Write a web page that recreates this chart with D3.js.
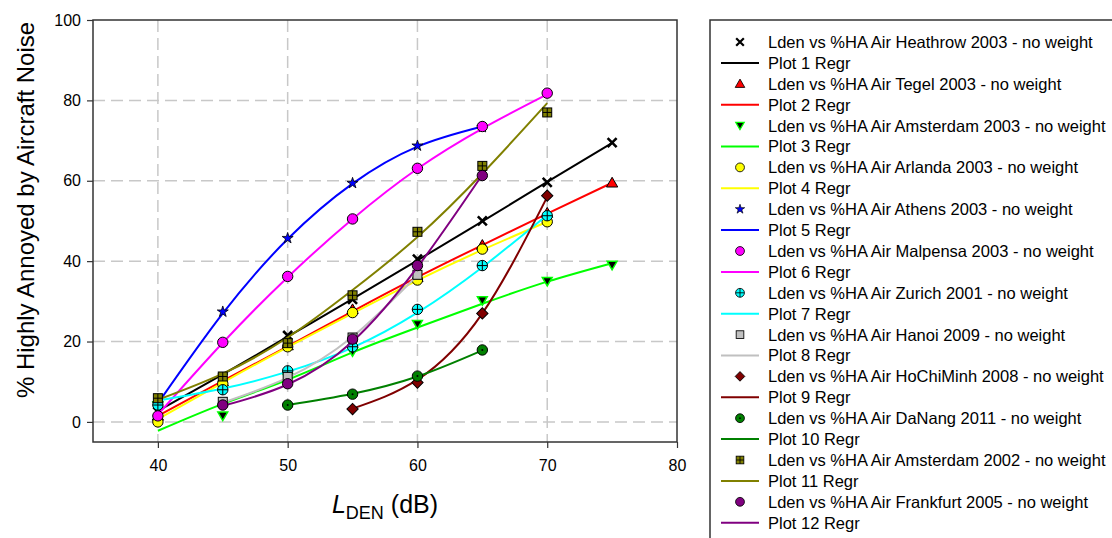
<!DOCTYPE html>
<html>
<head>
<meta charset="utf-8">
<script src="https://d3js.org/d3.v7.min.js"></script>
<style>
  body { margin: 0; background: #fff; }
  text { font-family: "Liberation Sans", Arial, sans-serif; fill: #000; }
</style>
</head>
<body>
<script>
// Data: Lden (dB), %HA points and regression curve values
var ldenHeathrow = [40, 45, 50, 55, 60, 65, 70, 75],
    haHeathrow   = [2.5, 11, 21.5, 30.5, 40.5, 50, 59.6, 69.5],
    fitHeathrow  = [2.7, 11.8, 21.2, 30.6, 40.2, 49.9, 59.7, 69.4];

var ldenTegel = [40, 45, 50, 55, 60, 65, 70, 75],
    haTegel   = [1.5, 10, 19, 28, 36, 44, 52, 59.5],
    fitTegel  = [1.5, 10.2, 18.8, 27.5, 36, 44, 51.8, 59.5];

var ldenAms03 = [40, 45, 50, 55, 60, 65, 70, 75],
    haAms03   = [4, 1.5, 11, 17.5, 24.3, 30.2, 35, 39],
    fitAms03  = [-2.2, 4.5, 10.5, 17.3, 23.5, 29.4, 34.9, 39.5];

var ldenArlanda = [40, 45, 50, 55, 60, 65, 70],
    haArlanda   = [0, 9.5, 18.7, 27.2, 35.3, 43, 49.8],
    fitArlanda  = [0.7, 9.8, 18.6, 27, 35.2, 42.8, 49.8];

var ldenAthens = [40, 45, 50, 55, 60, 65],
    haAthens   = [4.5, 27.4, 45.7, 59.4, 68.7, 73.3],
    fitAthens  = [4.6, 27, 45.5, 59.3, 68.5, 73.5];

var ldenMalpensa = [40, 45, 50, 55, 60, 65, 70],
    haMalpensa   = [1.5, 19.8, 36.2, 50.5, 63.1, 73.5, 81.8],
    fitMalpensa  = [1.8, 19.7, 36, 50.5, 63, 73, 81.5];

var ldenZurich = [40, 45, 50, 55, 60, 65, 70],
    haZurich   = [4.2, 8, 12.7, 18.7, 28, 38.9, 51.3],
    fitZurich  = [5.3, 8.3, 12.5, 18.5, 27.2, 38.5, 51.5];

var ldenHanoi = [45, 50, 55, 60],
    haHanoi   = [5, 11.2, 21, 36.6],
    fitHanoi  = [4.8, 11, 21.2, 36.5];

var ldenHCM = [55, 60, 65, 70],
    haHCM   = [3.2, 9.8, 27, 56.3],
    fitHCM  = [3.3, 10.5, 27, 56];

var ldenDaNang = [50, 55, 60, 65],
    haDaNang   = [4.2, 6.9, 11.4, 17.9],
    fitDaNang  = [4.2, 7, 11.3, 17.8];

var ldenAms02 = [40, 45, 50, 55, 60, 65, 70],
    haAms02   = [5.9, 11.3, 19.6, 31.5, 47.3, 63.7, 77],
    fitAms02  = [5.5, 12, 21, 32.8, 46, 61.8, 79.3];

var ldenFrankfurt = [45, 50, 55, 60, 65],
    haFrankfurt   = [4.2, 9.5, 20.6, 38.9, 61.3],
    fitFrankfurt  = [4, 9.3, 20, 38.5, 61.5];

var seriesNames = [
  "Lden vs %HA Air Heathrow 2003 - no weight",
  "Lden vs %HA Air Tegel 2003 - no weight",
  "Lden vs %HA Air Amsterdam 2003 - no weight",
  "Lden vs %HA Air Arlanda 2003 - no weight",
  "Lden vs %HA Air Athens 2003 - no weight",
  "Lden vs %HA Air Malpensa 2003 - no weight",
  "Lden vs %HA Air Zurich 2001 - no weight",
  "Lden vs %HA Air Hanoi 2009 - no weight",
  "Lden vs %HA Air HoChiMinh 2008 - no weight",
  "Lden vs %HA Air DaNang 2011 - no weight",
  "Lden vs %HA Air Amsterdam 2002 - no weight",
  "Lden vs %HA Air Frankfurt 2005 - no weight"
];
var xTicks = [40, 50, 60, 70, 80],
    yTicks = [0, 20, 40, 60, 80, 100];

var lden = [ldenHeathrow, ldenTegel, ldenAms03, ldenArlanda, ldenAthens, ldenMalpensa,
            ldenZurich, ldenHanoi, ldenHCM, ldenDaNang, ldenAms02, ldenFrankfurt],
    ha   = [haHeathrow, haTegel, haAms03, haArlanda, haAthens, haMalpensa,
            haZurich, haHanoi, haHCM, haDaNang, haAms02, haFrankfurt],
    fits = [fitHeathrow, fitTegel, fitAms03, fitArlanda, fitAthens, fitMalpensa,
            fitZurich, fitHanoi, fitHCM, fitDaNang, fitAms02, fitFrankfurt];

// styling
var lineColors = ["#000000", "#ff0000", "#00ff00", "#ffff00", "#0000ff", "#ff00ff",
                  "#00ffff", "#c0c0c0", "#800000", "#008000", "#808000", "#800080"],
    markers = ["x", "triUp", "triDown", "circle", "star", "circle",
               "circlePlus", "square", "diamond", "circleDot", "squareGrid", "circle"];

var W = 1112, H = 538,
    pL = 93, pR = 677, pT = 20, pB = 442;

var svg = d3.select("body").append("svg")
    .attr("width", W)
    .attr("height", H);

var x = d3.scaleLinear().domain([35, 80]).range([pL, pR]),
    y = d3.scaleLinear().domain([-5, 100]).range([pB, pT]);

// grid
var grid = svg.append("g").attr("class", "grid")
    .attr("stroke", "#c8c8c8")
    .attr("stroke-width", 1.5)
    .attr("stroke-dasharray", "12,6");
grid.selectAll("line.h")
    .data(yTicks.filter(function(d) { return d < 100; }))
  .enter().append("line")
    .attr("x1", pL).attr("x2", pR)
    .attr("y1", function(d) { return y(d); })
    .attr("y2", function(d) { return y(d); });
grid.selectAll("line.v")
    .data(xTicks.filter(function(d) { return d < 80; }))
  .enter().append("line")
    .attr("y1", pT).attr("y2", pB)
    .attr("x1", function(d) { return x(d); })
    .attr("x2", function(d) { return x(d); });

// axes
var xAxis = svg.append("g")
    .attr("transform", "translate(0," + pB + ")")
    .call(d3.axisBottom(x).tickValues(xTicks).tickSize(6).tickPadding(12).tickSizeOuter(0));
var yAxis = svg.append("g")
    .attr("transform", "translate(" + pL + ",0)")
    .call(d3.axisLeft(y).tickValues(yTicks).tickSize(6).tickPadding(6).tickSizeOuter(0));
[xAxis, yAxis].forEach(function(a) {
  a.select(".domain").remove();
  a.selectAll(".tick line").attr("stroke", "#333").attr("stroke-width", 1.2);
  a.selectAll(".tick text").style("font-size", "16px")
      .style("font-family", "'Liberation Sans', Arial, sans-serif").attr("fill", "#000");
});

svg.append("rect")
    .attr("x", pL).attr("y", pT)
    .attr("width", pR - pL).attr("height", pB - pT)
    .attr("fill", "none").attr("stroke", "#333").attr("stroke-width", 1.5);

// axis titles
svg.append("text")
    .attr("transform", "translate(34,210) rotate(-90)")
    .attr("text-anchor", "middle")
    .style("font-size", "24px")
    .text("% Highly Annoyed by Aircraft Noise");

var xt = svg.append("text")
    .attr("x", 385).attr("y", 513)
    .attr("text-anchor", "middle")
    .style("font-size", "25px");
xt.append("tspan").style("font-style", "italic").text("L");
xt.append("tspan").attr("dy", 6).style("font-size", "18px").text("DEN");
xt.append("tspan").attr("dy", -6).text(" (dB)");

// marker drawing
function drawMarker(g, type, color) {
  var sw = 1;
  if (type === "x") {
    g.append("path").attr("d", "M-4.5,-4.5L4.5,4.5M-4.5,4.5L4.5,-4.5")
        .attr("stroke", "#000").attr("stroke-width", 2.6).attr("fill", "none");
  } else if (type === "triUp") {
    g.append("path").attr("d", d3.symbol(d3.symbolTriangle, 55)())
        .attr("transform", "translate(0,1)")
        .attr("fill", color).attr("stroke", "#000").attr("stroke-width", sw);
  } else if (type === "triDown") {
    g.append("path").attr("d", d3.symbol(d3.symbolTriangle, 42)())
        .attr("transform", "translate(0,-1) rotate(180)")
        .attr("fill", "#000").attr("stroke", color).attr("stroke-width", 1.5);
  } else if (type === "star") {
    g.append("path").attr("d", d3.symbol(d3.symbolStar, 38)())
        .attr("fill", color).attr("stroke", "#000").attr("stroke-width", 0.8);
  } else if (type === "square" || type === "squareGrid") {
    g.append("rect").attr("x", -4.5).attr("y", -4.5).attr("width", 9).attr("height", 9)
        .attr("fill", color).attr("stroke", "#000").attr("stroke-width", sw);
    if (type === "squareGrid")
      g.append("path").attr("d", "M-4.5,0H4.5M0,-4.5V4.5")
          .attr("stroke", "#000").attr("stroke-width", 1);
  } else if (type === "diamond") {
    g.append("rect").attr("x", -4).attr("y", -4).attr("width", 8).attr("height", 8)
        .attr("transform", "rotate(45)")
        .attr("fill", color).attr("stroke", "#000").attr("stroke-width", sw);
  } else {
    g.append("circle").attr("r", 5.2)
        .attr("fill", color).attr("stroke", "#000").attr("stroke-width", sw);
    if (type === "circlePlus")
      g.append("path").attr("d", "M-5.2,0H5.2M0,-5.2V5.2")
          .attr("stroke", "#000").attr("stroke-width", 1);
    if (type === "circleDot")
      g.append("circle").attr("r", 1).attr("fill", "#000");
  }
}

// series
var regr = d3.line().curve(d3.curveNatural);
var plot = svg.append("g");
lden.forEach(function(xs, i) {
  var g = plot.append("g").attr("class", "series");
  g.append("path")
      .attr("d", regr(xs.map(function(v, j) { return [x(v), y(fits[i][j])]; })))
      .attr("fill", "none")
      .attr("stroke", lineColors[i])
      .attr("stroke-width", 2);
  xs.forEach(function(v, j) {
    var m = g.append("g").attr("transform", "translate(" + x(v) + "," + y(ha[i][j]) + ")");
    drawMarker(m, markers[i], lineColors[i]);
  });
});

// legend
var legend = svg.append("g");
legend.append("rect")
    .attr("x", 710).attr("y", 20)
    .attr("width", 420).attr("height", 540)
    .attr("fill", "#fff").attr("stroke", "#333").attr("stroke-width", 1.5);

var rowH = 20.9, row0 = 42;
seriesNames.forEach(function(name, i) {
  var ys = row0 + 2 * i * rowH, yl = ys + rowH;
  var m = legend.append("g").attr("transform", "translate(740," + ys + ") scale(0.85)");
  drawMarker(m, markers[i], lineColors[i]);
  legend.append("text").attr("x", 768).attr("y", ys).attr("dy", "0.36em")
      .style("font-size", "16.5px").text(name);
  legend.append("line")
      .attr("x1", 721).attr("x2", 759).attr("y1", yl).attr("y2", yl)
      .attr("stroke", lineColors[i]).attr("stroke-width", 2);
  legend.append("text").attr("x", 768).attr("y", yl).attr("dy", "0.36em")
      .style("font-size", "16.5px").text("Plot " + (i + 1) + " Regr");
});
</script>
</body>
</html>
